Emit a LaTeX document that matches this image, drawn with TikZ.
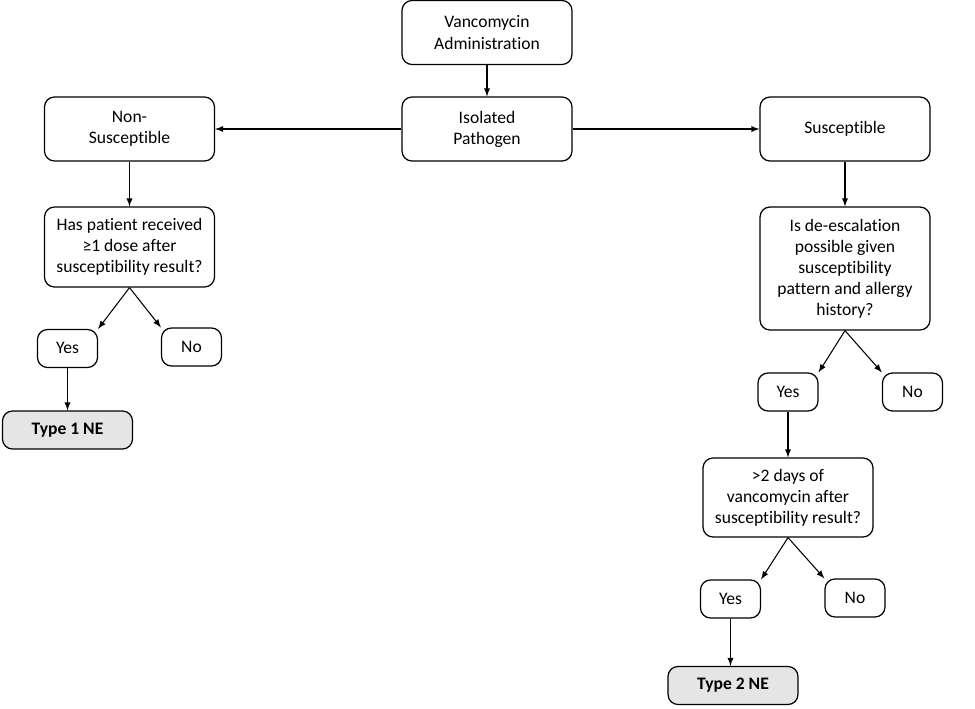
\documentclass[tikz,border=0pt]{standalone}
\usepackage{fontspec}
\setmainfont{Carlito}[Ligatures=NoCommon]
\usetikzlibrary{positioning}

\begin{document}
\begin{tikzpicture}[x=0.02cm,y=-0.02cm,
    box/.style={draw,rounded corners=0.2cm,align=center,minimum width=3.4cm,minimum height=1.28cm,inner sep=2pt,line width=0.7pt},
    ans/.style={box,minimum width=1.2cm,minimum height=0.76cm,text height=1.6ex,text depth=0.4ex},
    result/.style={box,fill=gray!20,minimum width=2.6cm,minimum height=0.76cm,font=\bfseries},
    arr/.style={-latex,line width=0.6pt}]
        \useasboundingbox (0,0) rectangle (975,708);

        \node[box] (vanc) at (487,32.5) {Vancomycin\\Administration};
        \node[box] (iso) at (487,129) {Isolated\\Pathogen};
        \node[box] (nonsus) at (129.5,129) {Non-\\Susceptible};
        \node[box] (sus) at (845,129) {Susceptible};

        \node[box,minimum height=1.6cm] (dose) at (129.5,247) {Has patient received\\≥1 dose after\\susceptibility result?};
        \node[ans] (yes1) at (67.5,348.5) {Yes};
        \node[ans] (no1) at (191.5,347) {No};
        \node[result] (type1) at (67.5,430) {Type 1 NE};

        \node[box,minimum height=2.46cm] (deesc) at (845,268.5) {Is de-escalation\\possible given\\susceptibility\\pattern and allergy\\history?};
        \node[ans] (yes2) at (788,392) {Yes};
        \node[ans] (no2) at (912.5,392) {No};
        \node[box,minimum height=1.58cm] (days) at (788,497.5) {>2 days of\\vancomycin after\\susceptibility result?};
        \node[ans] (yes3) at (730.5,599) {Yes};
        \node[ans] (no3) at (855,598) {No};
        \node[result] (type2) at (733,685.5) {Type 2 NE};

        \draw[arr] (vanc) -- (iso);
        \draw[arr] (iso) -- (nonsus);
        \draw[arr] (iso) -- (sus);
        \draw[arr] (nonsus) -- (dose);
        \draw[arr] (dose.south) -- (yes1.north east);
        \draw[arr] (dose.south) -- (no1.north west);
        \draw[arr] (yes1) -- (type1);
        \draw[arr] (sus) -- (deesc);
        \draw[arr] (deesc.south) -- (yes2.north east);
        \draw[arr] (deesc.south) -- (no2.north west);
        \draw[arr] (yes2) -- (days);
        \draw[arr] (days.south) -- (yes3.north east);
        \draw[arr] (days.south) -- (no3.north west);
        \draw[arr] (yes3) -- (yes3 |- type2.north);
    \end{tikzpicture}
\end{document}
